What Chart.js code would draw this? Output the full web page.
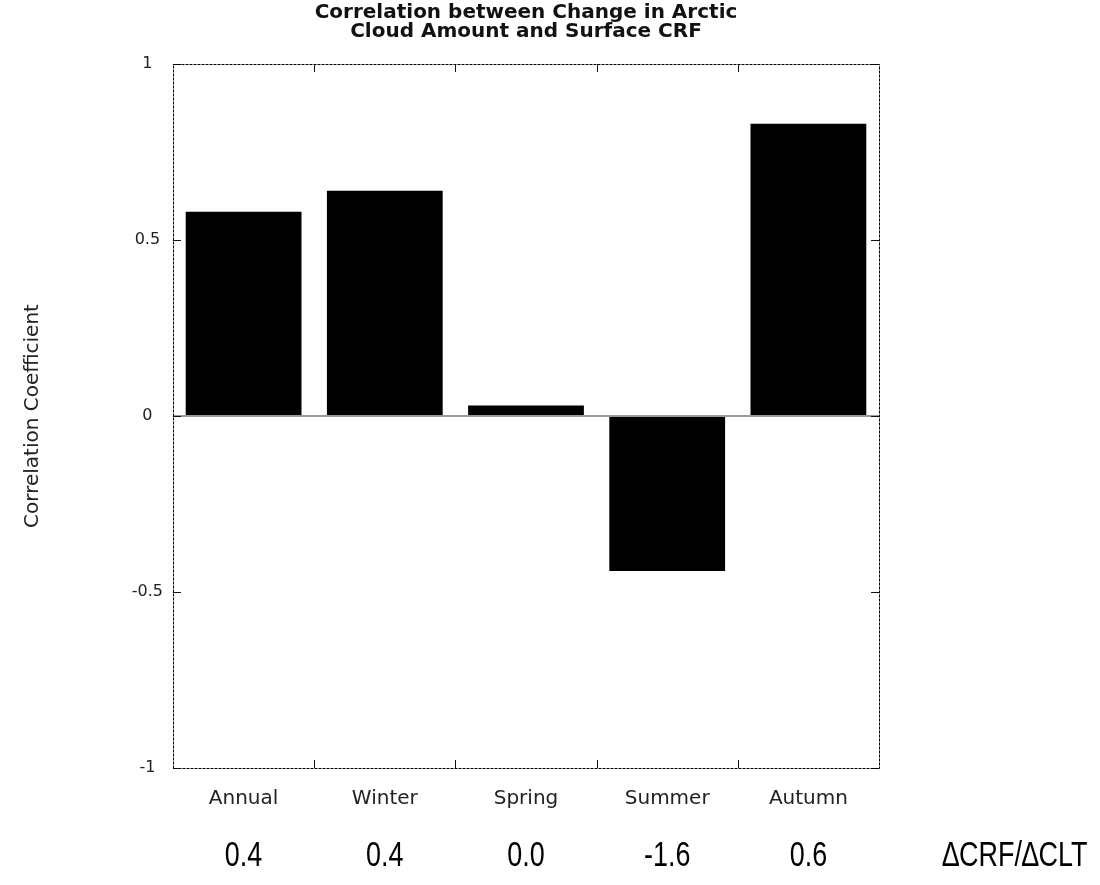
<!DOCTYPE html>
<html>
<head>
<meta charset="utf-8">
<script src="https://cdn.jsdelivr.net/npm/chart.js@4.4.0/dist/chart.umd.min.js"></script>
<style>
  body { margin: 0; background: #fff; }
  canvas { display: block; }
</style>
</head>
<body>
<canvas id="myChart" width="1100" height="885"></canvas>
<script>
// data
var seasons = ['Annual', 'Winter', 'Spring', 'Summer', 'Autumn'];
var correlation = [0.58, 0.64, 0.03, -0.44, 0.83];
var ratioLabels = ['0.4', '0.4', '0.0', '-1.6', '0.6'];
var ratioTitle = '\u2206CRF/\u2206CLT';
var yTicks = [-1, -0.5, 0, 0.5, 1];

// frame, inward ticks and the row of ratios under the plot
var framePlugin = {
  id: 'frame',
  afterDatasetsDraw: function(chart) {
    var ctx = chart.ctx;
    var a = chart.chartArea;
    var x = chart.scales.x;
    var y = chart.scales.y;
    var len = 8;
    ctx.save();
    ctx.strokeStyle = '#111';
    ctx.lineWidth = 1;
    ctx.beginPath();
    for (var i = 1; i < seasons.length; i++) {
      var px = Math.round((x.getPixelForValue(i - 1) + x.getPixelForValue(i)) / 2) + 0.5;
      ctx.moveTo(px, a.top); ctx.lineTo(px, a.top + len);
      ctx.moveTo(px, a.bottom); ctx.lineTo(px, a.bottom - len);
    }
    yTicks.forEach(function(v) {
      var py = Math.round(y.getPixelForValue(v)) + 0.5;
      ctx.moveTo(a.left, py); ctx.lineTo(a.left + len, py);
      ctx.moveTo(a.right, py); ctx.lineTo(a.right - len, py);
    });
    ctx.stroke();
    ctx.strokeStyle = '#000';
    ctx.setLineDash([3, 1]);
    ctx.strokeRect(Math.round(a.left) + 0.5, Math.round(a.top) + 0.5,
                   Math.round(a.right - a.left), Math.round(a.bottom - a.top));
    ctx.restore();
  },
  afterDraw: function(chart) {
    var ctx = chart.ctx;
    var x = chart.scales.x;
    var sx = 0.77;
    ctx.save();
    ctx.fillStyle = '#000';
    ctx.font = '35px "Liberation Sans", Arial, sans-serif';
    ctx.textAlign = 'center';
    ctx.textBaseline = 'alphabetic';
    ctx.scale(sx, 1);
    ratioLabels.forEach(function(t, i) {
      ctx.fillText(t, x.getPixelForValue(i) / sx, 866);
    });
    ctx.fillText(ratioTitle, (chart.chartArea.right + 136) / sx, 866);
    ctx.restore();
  }
};

var ctx = document.getElementById('myChart');
var myBarChart = new Chart(ctx, {
  type: 'bar',
  data: {
    labels: seasons,
    datasets: [{
      data: correlation,
      backgroundColor: '#000',
      borderWidth: 0,
      barPercentage: 0.82,
      categoryPercentage: 1
    }]
  },
  options: {
    responsive: false,
    animation: false,
    layout: { padding: { left: 0, right: 221, top: 0, bottom: 0 } },
    plugins: {
      legend: { display: false },
      tooltip: { enabled: false },
      title: {
        display: true,
        fullSize: false,
        text: ['Correlation between Change in Arctic', 'Cloud Amount and Surface CRF'],
        color: '#111',
        font: { family: '"DejaVu Sans", sans-serif', size: 20, weight: 'bold', lineHeight: 0.95 },
        padding: { top: 3, bottom: 23 }
      }
    },
    scales: {
      x: {
        grid: { display: false },
        border: { display: false },
        ticks: {
          color: '#222',
          padding: 11,
          font: { family: '"DejaVu Sans", sans-serif', size: 20 }
        },
        afterFit: function(scale) { scale.height = 117; }
      },
      y: {
        min: -1,
        max: 1,
        grid: {
          drawTicks: false,
          color: function(c) { return c.tick && c.tick.value === 0 ? '#9a9a9a' : 'rgba(0,0,0,0)'; },
          lineWidth: 2
        },
        border: { display: false },
        ticks: {
          stepSize: 0.5,
          color: '#222',
          padding: 10,
          crossAlign: 'center',
          font: { family: '"DejaVu Sans", sans-serif', size: 16 },
          callback: function(v) { return String(v); }
        },
        title: {
          display: true,
          text: 'Correlation Coefficient',
          color: '#222',
          padding: { top: 21, bottom: 0 },
          font: { family: '"DejaVu Sans", sans-serif', size: 20 }
        },
        afterFit: function(scale) { scale.width = 173; }
      }
    }
  },
  plugins: [framePlugin]
});
</script>
</body>
</html>
